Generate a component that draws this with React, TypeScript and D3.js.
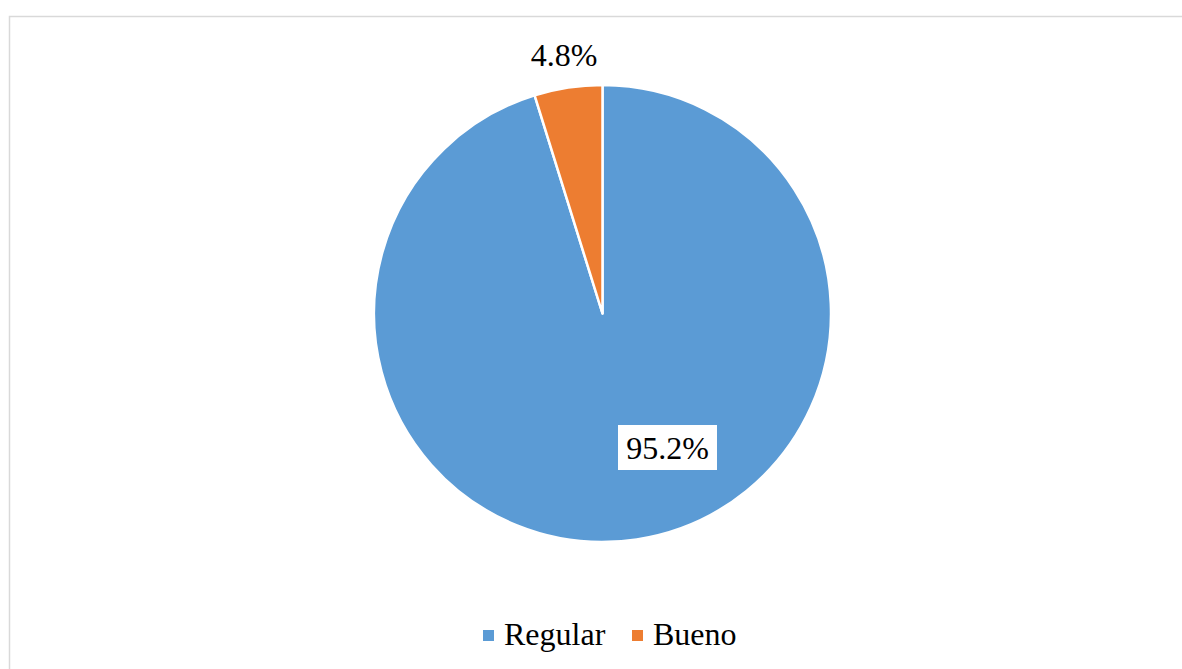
import React from "react";
import * as d3 from "d3";

const categories = ["Regular", "Bueno"];
const values = [95.2, 4.8];
const labels = ["95.2%", "4.8%"];
const colors = ["#5B9BD5", "#ED7D31"];

export default function App() {
  const W = 1182, H = 669;
  const cx = 602.5, cy = 313.5, r = 228.5;
  const pie = d3.pie<number>().sort(null).value((d) => d);
  const arcs = pie(values);
  const arcGen = d3.arc<d3.PieArcDatum<number>>().innerRadius(0).outerRadius(r);
  const fontStyle = { fontFamily: '"Liberation Serif", "Times New Roman", Times, serif' };
  return (
    <svg width={W} height={H} style={{ position: "absolute", left: 0, top: 0 }}>
      <rect x={9.5} y={16.5} width={1300} height={800} fill="#fff" stroke="#d9d9d9" strokeWidth={1.5} />
      <g transform={`translate(${cx},${cy})`}>
        {arcs.map((a, i) => (
          <path key={i} d={arcGen(a) || ""} fill={colors[i]} stroke="#fff" strokeWidth={2.5} strokeLinejoin="round" />
        ))}
      </g>
      <g style={fontStyle} fontSize={32} fill="#000">
        <rect x={618} y={425} width={99} height={45} fill="#fff" />
        <text x={667.5} y={459} textAnchor="middle">{labels[0]}</text>
        <text x={564} y={66} textAnchor="middle">{labels[1]}</text>
        <rect x={483} y={630} width={11} height={11} fill={colors[0]} />
        <text x={504} y={645}>{categories[0]}</text>
        <rect x={632} y={630} width={11} height={11} fill={colors[1]} />
        <text x={653} y={645}>{categories[1]}</text>
      </g>
    </svg>
  );
}
